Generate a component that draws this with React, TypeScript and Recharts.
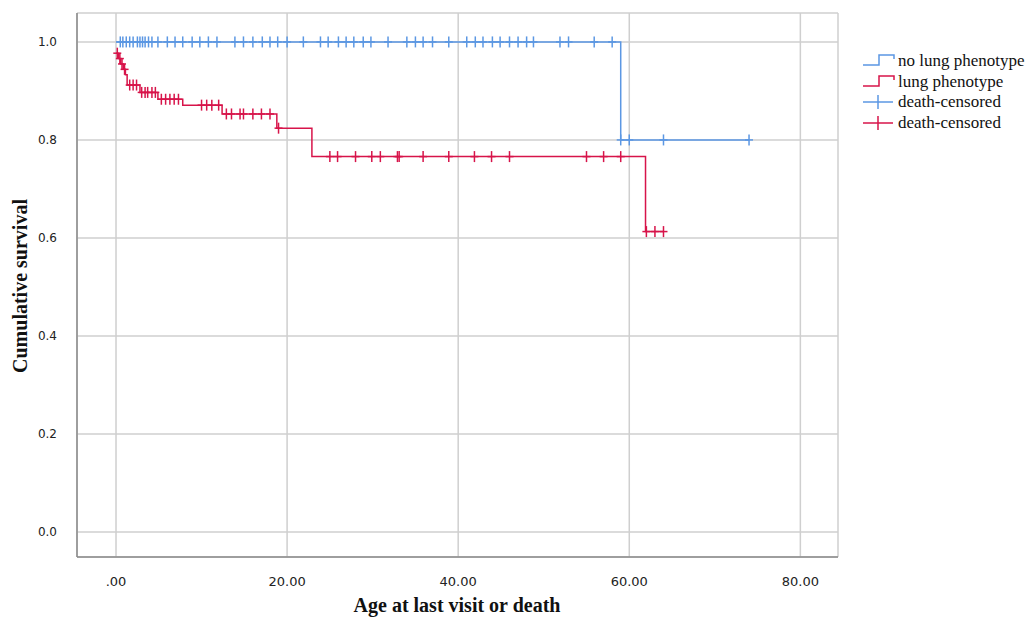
import React from "react"
import { ComposedChart, Line, Scatter, XAxis, YAxis, CartesianGrid } from "recharts"

const BLUE = "#5b97e3"
const RED = "#d7144a"

// step points: time (years) and cumulative survival after the step
const noLungSteps = [
  { t: 0, s: 1.0 },
  { t: 59, s: 0.8 },
  { t: 74, s: 0.8 },
]

const lungSteps = [
  { t: 0, s: 0.977 },
  { t: 0.3, s: 0.966 },
  { t: 0.55, s: 0.955 },
  { t: 0.85, s: 0.944 },
  { t: 1.1, s: 0.933 },
  { t: 1.3, s: 0.912 },
  { t: 2.8, s: 0.897 },
  { t: 4.9, s: 0.883 },
  { t: 7.8, s: 0.871 },
  { t: 12.4, s: 0.853 },
  { t: 18.8, s: 0.824 },
  { t: 22.9, s: 0.766 },
  { t: 61.9, s: 0.613 },
  { t: 64, s: 0.613 },
]

// censored observations
const noLungCensored = [
  { t: 0.5, s: 1 }, { t: 0.8, s: 1 }, { t: 1.2, s: 1 }, { t: 1.6, s: 1 }, { t: 2.0, s: 1 },
  { t: 2.5, s: 1 }, { t: 2.8, s: 1 }, { t: 3.1, s: 1 }, { t: 3.4, s: 1 }, { t: 3.8, s: 1 },
  { t: 4.2, s: 1 }, { t: 4.9, s: 1 }, { t: 6, s: 1 }, { t: 6.9, s: 1 }, { t: 7.8, s: 1 },
  { t: 8.9, s: 1 }, { t: 9.8, s: 1 }, { t: 10.8, s: 1 }, { t: 11.8, s: 1 }, { t: 13.9, s: 1 },
  { t: 14.9, s: 1 }, { t: 16, s: 1 }, { t: 17.1, s: 1 }, { t: 18, s: 1 }, { t: 18.9, s: 1 },
  { t: 20, s: 1 }, { t: 21.9, s: 1 }, { t: 23.9, s: 1 }, { t: 24.8, s: 1 }, { t: 26, s: 1 },
  { t: 26.9, s: 1 }, { t: 27.8, s: 1 }, { t: 28.9, s: 1 }, { t: 29.8, s: 1 }, { t: 31.8, s: 1 },
  { t: 34, s: 1 }, { t: 35, s: 1 }, { t: 35.9, s: 1 }, { t: 37, s: 1 }, { t: 38.9, s: 1 },
  { t: 41, s: 1 }, { t: 42, s: 1 }, { t: 42.9, s: 1 }, { t: 44, s: 1 }, { t: 44.9, s: 1 },
  { t: 46, s: 1 }, { t: 47, s: 1 }, { t: 48, s: 1 }, { t: 48.8, s: 1 }, { t: 51.9, s: 1 },
  { t: 52.9, s: 1 }, { t: 55.9, s: 1 }, { t: 58, s: 1 },
  { t: 59, s: 0.8 }, { t: 60, s: 0.8 }, { t: 64, s: 0.8 }, { t: 74, s: 0.8 },
]

const lungCensored = [
  { t: 0.15, s: 0.977 }, { t: 0.45, s: 0.966 }, { t: 0.7, s: 0.955 }, { t: 1.0, s: 0.944 },
  { t: 1.6, s: 0.912 }, { t: 2.0, s: 0.912 }, { t: 2.4, s: 0.912 },
  { t: 3.0, s: 0.897 }, { t: 3.4, s: 0.897 }, { t: 3.7, s: 0.897 }, { t: 4.2, s: 0.897 }, { t: 4.6, s: 0.897 },
  { t: 5.3, s: 0.883 }, { t: 5.8, s: 0.883 }, { t: 6.3, s: 0.883 }, { t: 6.8, s: 0.883 }, { t: 7.3, s: 0.883 },
  { t: 10, s: 0.871 }, { t: 10.6, s: 0.871 }, { t: 11.2, s: 0.871 }, { t: 12, s: 0.871 },
  { t: 12.9, s: 0.853 }, { t: 13.5, s: 0.853 }, { t: 14.5, s: 0.853 }, { t: 14.9, s: 0.853 },
  { t: 16, s: 0.853 }, { t: 17, s: 0.853 }, { t: 18, s: 0.853 },
  { t: 19, s: 0.824 },
  { t: 25, s: 0.766 }, { t: 25.9, s: 0.766 }, { t: 28, s: 0.766 }, { t: 29.9, s: 0.766 },
  { t: 30.9, s: 0.766 }, { t: 32.9, s: 0.766 }, { t: 33.1, s: 0.766 }, { t: 35.9, s: 0.766 },
  { t: 38.9, s: 0.766 }, { t: 41.9, s: 0.766 }, { t: 43.9, s: 0.766 }, { t: 46, s: 0.766 },
  { t: 55, s: 0.766 }, { t: 57, s: 0.766 }, { t: 59, s: 0.766 },
  { t: 62, s: 0.613 }, { t: 63, s: 0.613 }, { t: 64, s: 0.613 },
]

const xTicks = [0, 20, 40, 60, 80]
const yTicks = [0, 0.2, 0.4, 0.6, 0.8, 1.0]

const legendItems = [
  { label: "no lung phenotype", color: BLUE, kind: "step" },
  { label: "lung phenotype", color: RED, kind: "step" },
  { label: "death-censored", color: BLUE, kind: "cross" },
  { label: "death-censored", color: RED, kind: "cross" },
]

function CensorMark(props: any) {
  const { cx, cy, color } = props
  if (cx == null || cy == null) return null
  return (
    <g>
      <line x1={cx} x2={cx} y1={cy - 5.5} y2={cy + 5.5} stroke={color} strokeWidth={1.5} />
      <line x1={cx - 4} x2={cx + 4} y1={cy} y2={cy} stroke={color} strokeWidth={1.5} />
    </g>
  )
}

function LegendIcon({ kind, color }: { kind: string; color: string }) {
  return (
    <svg width={34} height={20} style={{ display: "block" }}>
      {kind === "step" ? (
        <polyline points="1,14 17,14 17,4 32,4 32,8" fill="none" stroke={color} strokeWidth={1.5} />
      ) : (
        <g>
          <line x1={1} x2={31} y1={10} y2={10} stroke={color} strokeWidth={1.5} />
          <line x1={16} x2={16} y1={3} y2={17} stroke={color} strokeWidth={1.5} />
        </g>
      )}
    </svg>
  )
}

export default function App() {
  const serif = "'Liberation Serif', 'DejaVu Serif', serif"
  return (
    <div style={{ position: "absolute", left: 0, top: 0, width: 1033, height: 618, background: "#fff", overflow: "hidden" }}>
      <ComposedChart width={1033} height={618} margin={{ top: 13, right: 195, bottom: 0, left: 0 }}>
        <CartesianGrid stroke="#cfcfcf" strokeWidth={1.5} />
        <XAxis
          type="number"
          dataKey="t"
          domain={[-4.56, 84.4]}
          ticks={xTicks}
          allowDataOverflow
          height={61}
          tickLine={false}
          tickMargin={14}
          axisLine={{ stroke: "#8a8a8a", strokeWidth: 1.5 }}
          tick={{ fill: "#222", fontSize: 13, fontFamily: "'DejaVu Sans', sans-serif" }}
          tickFormatter={(v: number) => (v === 0 ? ".00" : v.toFixed(2))}
        />
        <YAxis
          type="number"
          dataKey="s"
          domain={[-0.051, 1.059]}
          ticks={yTicks}
          allowDataOverflow
          width={77}
          tickLine={false}
          tickMargin={14}
          axisLine={{ stroke: "#8a8a8a", strokeWidth: 1.5 }}
          tick={{ fill: "#222", fontSize: 12, fontFamily: "'DejaVu Sans', sans-serif" }}
          tickFormatter={(v: number) => v.toFixed(1)}
        />
        <Line data={noLungSteps} dataKey="s" type="stepAfter" stroke={BLUE} strokeWidth={1.5} dot={false} isAnimationActive={false} />
        <Line data={lungSteps} dataKey="s" type="stepAfter" stroke={RED} strokeWidth={1.5} dot={false} isAnimationActive={false} />
        <Scatter data={noLungCensored} dataKey="s" isAnimationActive={false} shape={(p: any) => <CensorMark {...p} color={BLUE} />} />
        <Scatter data={lungCensored} dataKey="s" isAnimationActive={false} shape={(p: any) => <CensorMark {...p} color={RED} />} />
      </ComposedChart>

      <div
        style={{
          position: "absolute",
          left: 20,
          top: 286,
          transform: "translate(-50%, -50%) rotate(-90deg)",
          whiteSpace: "nowrap",
          fontFamily: serif,
          fontWeight: "bold",
          fontSize: 20,
          color: "#111",
        }}
      >
        Cumulative survival
      </div>
      <div
        style={{
          position: "absolute",
          left: 457,
          top: 594,
          transform: "translateX(-50%)",
          whiteSpace: "nowrap",
          fontFamily: serif,
          fontWeight: "bold",
          fontSize: 20,
          lineHeight: "22px",
          color: "#111",
        }}
      >
        Age at last visit or death
      </div>

      <div style={{ position: "absolute", left: 862, top: 51, fontFamily: serif, fontSize: 17, color: "#111" }}>
        {legendItems.map((item, i) => (
          <div key={i} style={{ display: "flex", alignItems: "center", height: 20.5, whiteSpace: "nowrap" }}>
            <LegendIcon kind={item.kind} color={item.color} />
            <span style={{ marginLeft: 2 }}>{item.label}</span>
          </div>
        ))}
      </div>
    </div>
  )
}
